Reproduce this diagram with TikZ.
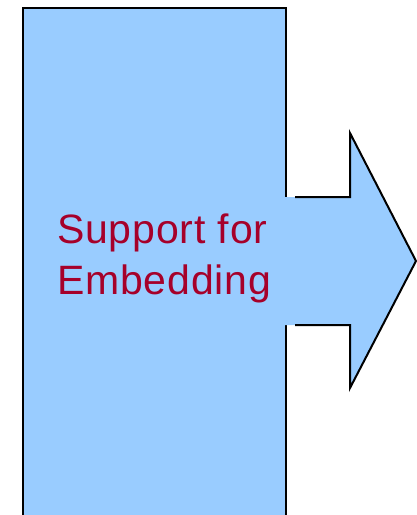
\documentclass[tikz,border=0pt]{standalone}
\usepackage{fontspec}
\setmainfont{Liberation Sans}
\usepackage{xcolor}
\usetikzlibrary{positioning}
\definecolor{Sky}{HTML}{99CCFF}
\definecolor{Wine}{HTML}{A6002A}
\tikzset{
  panel/.style={draw=black, line width=2pt, fill=Sky},
  arrowFill/.style={fill=Sky},
  arrowLine/.style={draw=black, line width=2pt, line join=miter},
  caption/.style={text=Wine, align=left, inner sep=0pt,
    font=\fontsize{41}{51}\selectfont\addfontfeature{LetterSpace=2}}
}
\begin{document}
\begin{tikzpicture}[x=1pt,y=-1pt]
  \useasboundingbox (0,0) rectangle (417,515);
  \clip (0,0) rectangle (417,515);
  \node[panel, minimum width=263pt, minimum height=530pt, anchor=north west, inner sep=0pt] (box) at (22,7) {};
  % arrow leaving the panel
  \fill[arrowFill] (280,197) -- (350,197) -- (350,133) -- (416,261) -- (350,388) -- (350,325) -- (280,325) -- cycle;
  \draw[arrowLine] (295,197) -- (350,197) -- (350,133) -- (416,261) -- (350,388) -- (350,325) -- (295,325);
  \node[caption, anchor=west] (label) at (57,258) {Support for\\Embedding};
\end{tikzpicture}
\end{document}
